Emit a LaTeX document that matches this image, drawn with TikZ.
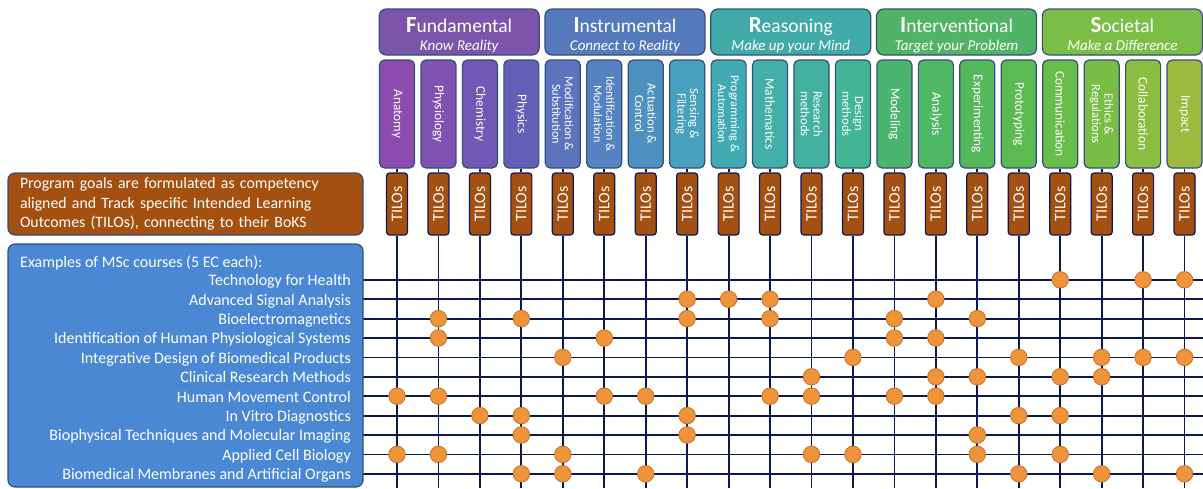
\documentclass[tikz,border=0pt]{standalone}
\usepackage{fontspec}
\setmainfont{Carlito}
\definecolor{brownbox}{RGB}{163,80,16}
\definecolor{bluebox}{RGB}{74,136,212}
\definecolor{boxborder}{RGB}{52,78,125}
\definecolor{gridline}{RGB}{12,24,82}
\definecolor{dotfill}{RGB}{240,148,60}
\definecolor{dotdraw}{RGB}{196,112,40}
\definecolor{catA}{RGB}{122,85,170}
\definecolor{catB}{RGB}{85,122,188}
\definecolor{catC}{RGB}{65,170,168}
\definecolor{catD}{RGB}{80,180,100}
\definecolor{catE}{RGB}{122,190,72}
\definecolor{col1}{RGB}{140,75,175}
\definecolor{col2}{RGB}{127,82,178}
\definecolor{col3}{RGB}{113,88,180}
\definecolor{col4}{RGB}{100,95,182}
\definecolor{col5}{RGB}{92,115,190}
\definecolor{col6}{RGB}{85,130,192}
\definecolor{col7}{RGB}{78,145,192}
\definecolor{col8}{RGB}{70,160,190}
\definecolor{col9}{RGB}{66,170,178}
\definecolor{col10}{RGB}{66,175,168}
\definecolor{col11}{RGB}{66,178,158}
\definecolor{col12}{RGB}{68,181,148}
\definecolor{col13}{RGB}{75,181,112}
\definecolor{col14}{RGB}{80,183,102}
\definecolor{col15}{RGB}{85,184,92}
\definecolor{col16}{RGB}{92,186,82}
\definecolor{col17}{RGB}{105,189,75}
\definecolor{col18}{RGB}{120,190,70}
\definecolor{col19}{RGB}{137,190,65}
\definecolor{col20}{RGB}{155,186,62}
\tikzset{
  catbox/.style={draw=boxborder, line width=1.2pt, rounded corners=7pt, minimum width=160pt, minimum height=46pt, inner sep=0pt},
  cattitle/.style={anchor=base, text=white, inner sep=0pt, font=\fontsize{19.5}{20}\selectfont},
  catsub/.style={anchor=base, text=white, inner sep=0pt, font=\fontsize{15}{16}\selectfont\itshape},
  colbox/.style={draw=boxborder, line width=1.2pt, rounded corners=5pt, rotate=-90, minimum width=108pt, minimum height=35pt, inner sep=1pt, text=white, align=center},
  tilobox/.style={draw=gridline, line width=1.2pt, rounded corners=3pt, rotate=90, minimum width=62pt, minimum height=21pt, inner sep=0pt, fill=brownbox, text=white, font=\fontsize{16}{16}\selectfont},
  gridlink/.style={draw=gridline, line width=1.8pt},
  hitdot/.style={circle, fill=dotfill, draw=dotdraw, line width=0.8pt, minimum size=16.5pt, inner sep=0pt},
  leftbox/.style={draw=boxborder, line width=1.2pt, rounded corners=7pt, minimum width=355pt, text=white},
  course/.style={anchor=base east, text=white, inner sep=0pt, font=\fontsize{16}{17}\selectfont}
}
\begin{document}
\begin{tikzpicture}[x=1pt,y=-1pt]
\useasboundingbox (0,0) rectangle (1203,488);
% coordinates
\foreach \i in {1,...,20} \coordinate (b\i) at ({397+41.45*(\i-1)},488);
\foreach \j in {1,...,11} {
  \coordinate (l\j) at (363,{279.8+19.4*(\j-1)});
  \coordinate (r\j) at (1203,{279.8+19.4*(\j-1)});
}
% horizontal course lines
\foreach \j in {1,...,11} \draw[gridlink] (l\j) -- (r\j);
% category headers
\foreach \a/\b/\s/\c [count=\k from 0] in {F/undamental/Know Reality/catA, I/nstrumental/Connect to Reality/catB, R/easoning/Make up your Mind/catC, I/nterventional/Target your Problem/catD, S/ocietal/Make a Difference/catE} {
  \node[catbox, fill=\c] (cat\k) at ({397+41.45*(4*\k+1.5)},32) {};
  \node[cattitle] (title\k) at ({397+41.45*(4*\k+1.5)},32) {{\fontsize{23}{24}\selectfont\bfseries \a}\b};
  \node[catsub] (sub\k) at ({397+41.45*(4*\k+1.5)},50.5) {\s};
}
% competency columns
\foreach \t/\fs [count=\i] in {Anatomy/13.3, Physiology/13.3, Chemistry/13.3, Physics/13.3, {Modification \&\\Substitution}/12.2, {Identification \&\\Modulation}/12, {Actuation \&\\Control}/12.5, {Sensing \&\\Filtering}/12.5, {Programming \&\\Automation}/12, Mathematics/13.3, {Research\\methods}/12.5, {Design\\methods}/12.5, Modeling/13.3, Analysis/13.3, Experimenting/13.3, Prototyping/13.3, Communication/13.3, {Ethics \&\\Regulations}/12.5, Collaboration/13.3, Impact/13.3} {
  \node[colbox, fill=col\i, font=\fontsize{\fs}{12.6}\selectfont] (c\i) at ({397+41.45*(\i-1)},114) {\t};
  \node[tilobox] (t\i) at ({397+41.45*(\i-1)},204) {TILOs};
  \draw[gridlink] (c\i.east) -- (t\i.east);
  \draw[gridlink] (t\i.west) -- (b\i);
}
% left boxes
\node[leftbox, fill=brownbox, minimum height=62pt, text width=331pt, inner xsep=12pt, inner ysep=0pt, align=left, font=\fontsize{15.8}{19.5}\selectfont] (goals) at (185.5,204) {Program goals are formulated as competency\\aligned and Track specific Intended Learning\\Outcomes (TILOs), connecting to their BoKS};
\node[leftbox, fill=bluebox, minimum height=243pt] (courses) at (185.5,365.5) {};
\node[anchor=base west, text=white, inner sep=0pt, font=\fontsize{16}{17}\selectfont] (coursehead) at (20,267.5) {Examples of MSc courses (5 EC each):};
\foreach \n [count=\j] in {Technology for Health, Advanced Signal Analysis, Bioelectromagnetics, Identification of Human Physiological Systems, Integrative Design of Biomedical Products, Clinical Research Methods, Human Movement Control, In Vitro Diagnostics, Biophysical Techniques and Molecular Imaging, Applied Cell Biology, Biomedical Membranes and Artificial Organs}
  \node[course] (n\j) at (351,{285.6+19.4*(\j-1)}) {\n};
% hit dots
\foreach \j/\list in {1/{17,19,20}, 2/{8,9,10,14}, 3/{2,4,8,10,13,15}, 4/{2,6,13,14}, 5/{5,12,16,18,19,20}, 6/{11,14,15,17,18}, 7/{1,2,6,7,10,11,13,14}, 8/{3,4,8,16,17}, 9/{4,8,15}, 10/{1,2,5,11,12,15,17}, 11/{4,5,7,16,18,20}}
  \foreach \i in \list \node[hitdot] (d\j-\i) at (b\i |- l\j) {};
\end{tikzpicture}
\end{document}
